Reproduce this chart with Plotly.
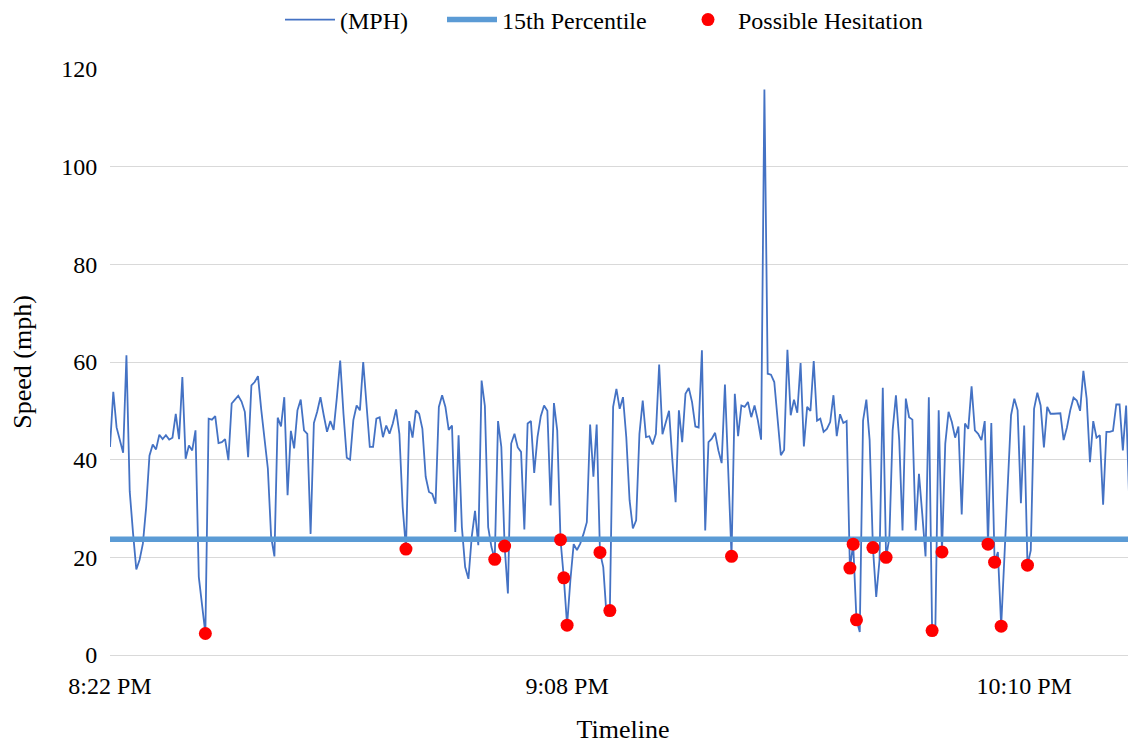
import plotly.graph_objects as go

# Speed readings (MPH), one per timeline category
speed = [
    42.6, 53.9, 46.6, 44.0, 41.4, 61.4, 33.5, 25.0, 17.5, 19.5,
    22.8, 30.3, 40.8, 43.1, 42.1, 45.1, 44.2, 45.0, 44.1, 44.5,
    49.4, 44.2, 56.9, 40.2, 42.9, 41.9, 46.0, 16.0, 10.5, 4.4,
    48.4, 48.2, 48.9, 43.4, 43.6, 44.2, 39.9, 51.5, 52.3, 53.1,
    51.9, 49.8, 40.5, 55.2, 55.9, 57.1, 50.2, 43.7, 38.2, 24.2,
    20.2, 48.6, 46.8, 52.8, 32.7, 45.9, 42.3, 50.1, 52.3, 46.0,
    45.3, 24.8, 47.5, 49.8, 52.8, 49.1, 45.7, 47.9, 46.1, 52.8,
    60.3, 49.4, 40.4, 40.0, 48.1, 51.1, 50.1, 60.0, 50.8, 42.6,
    42.6, 48.4, 48.7, 44.6, 47.0, 45.3, 47.4, 50.3, 45.3, 30.3,
    21.7, 47.9, 44.5, 50.1, 49.4, 46.3, 36.5, 33.4, 33.0, 31.0,
    50.8, 53.2, 50.8, 46.1, 47.0, 25.2, 45.0, 26.2, 18.0, 15.6,
    24.2, 29.5, 22.5, 56.2, 51.0, 26.2, 22.1, 19.6, 47.9, 42.6,
    22.3, 12.6, 43.3, 45.3, 42.5, 41.6, 25.7, 47.4, 47.9, 37.3,
    44.6, 48.9, 51.1, 50.0, 30.6, 51.6, 46.0, 23.6, 15.8, 6.1,
    15.3, 22.7, 21.5, 22.8, 24.8, 27.2, 47.2, 36.5, 47.2, 21.0,
    18.0, 8.0, 9.1, 50.8, 54.5, 50.4, 52.8, 44.6, 31.7, 25.9,
    27.6, 45.3, 52.1, 44.6, 44.8, 43.1, 45.3, 59.5, 45.2, 47.7,
    50.0, 40.0, 31.3, 50.1, 43.6, 53.5, 54.7, 51.8, 46.8, 46.6,
    62.4, 25.5, 43.6, 44.3, 45.5, 41.9, 39.3, 55.4, 38.0, 20.2,
    53.5, 44.8, 51.1, 50.8, 51.8, 48.7, 51.1, 48.1, 44.1, 115.8,
    57.6, 57.4, 55.9, 48.0, 40.9, 42.0, 62.5, 49.1, 52.3, 49.6,
    59.8, 42.7, 50.8, 50.0, 60.2, 48.0, 48.4, 45.7, 46.3, 47.7,
    53.2, 44.8, 49.3, 47.5, 47.9, 17.8, 22.7, 7.2, 4.7, 48.0,
    52.3, 44.0, 22.0, 11.9, 19.4, 54.7, 20.0, 24.0, 46.0, 53.2,
    44.0, 25.5, 52.5, 48.7, 48.2, 25.5, 37.1, 28.9, 20.2, 52.8,
    5.0, 6.0, 50.1, 21.1, 43.3, 49.8, 47.7, 44.5, 46.8, 28.8,
    47.4, 46.3, 55.0, 46.0, 45.3, 44.0, 47.9, 22.7, 47.5, 19.0,
    21.1, 5.9, 20.0, 35.0, 49.1, 52.5, 50.1, 31.1, 47.0, 18.4,
    21.4, 50.4, 53.7, 51.1, 42.5, 50.8, 49.4, 49.4, 49.5, 49.5,
    44.0, 46.6, 50.1, 52.7, 52.1, 50.0, 58.2, 52.5, 39.5, 47.9,
    44.5, 45.0, 30.8, 45.7, 45.7, 45.9, 51.3, 51.3, 41.9, 51.1,
    30.2, 45.0, 42.7, 35.0,
]

percentile_15 = 23.7

# Category indices flagged as possible hesitation
hesitation_idx = [29, 90, 117, 120, 137, 138, 139, 149, 152, 189, 225, 226,
                  227, 232, 236, 250, 253, 267, 269, 271, 279]

tick_idx = [0, 139, 278]
tick_labels = ["8:22 PM", "9:08 PM", "10:10 PM"]

series_names = ["(MPH)", "15th Percentile", "Possible Hesitation"]

x = list(range(len(speed)))
hes_y = [speed[i] for i in hesitation_idx]

FONT = "Liberation Serif"
W, H = 1128, 736

fig = go.Figure()
fig.add_trace(go.Scatter(
    x=x, y=speed, mode="lines", name=series_names[0], legend="legend",
    line=dict(color="#4472C4", width=1.8),
))
fig.add_trace(go.Scatter(
    x=x, y=[percentile_15] * len(x), mode="lines", name=series_names[1], legend="legend2",
    line=dict(color="#5B9BD5", width=5.5),
))
fig.add_trace(go.Scatter(
    x=hesitation_idx, y=hes_y, mode="markers", name=series_names[2], legend="legend3",
    marker=dict(color="#FF0000", size=13),
))

def leg(left_px):
    return dict(
        orientation="h", xref="container", yref="container",
        x=left_px / W, xanchor="left", y=1 - 12 / H, yanchor="middle",
        font=dict(family=FONT, size=24, color="#000000"),
        itemwidth=50, bgcolor="rgba(0,0,0,0)",
    )

fig.update_layout(
    width=W, height=H,
    margin=dict(l=102, r=0, t=61, b=89, autoexpand=False),
    paper_bgcolor="white", plot_bgcolor="white",
    font=dict(family=FONT, color="#000000", size=24),
    showlegend=True,
    legend=leg(272),
    legend2=leg(434),
    legend3=leg(670),
    xaxis=dict(
        range=[0, 312.0], automargin=False,
        tickmode="array", tickvals=tick_idx, ticktext=tick_labels,
        showgrid=False, zeroline=False,
        showline=True, linecolor="#D9D9D9", linewidth=1.3,
        ticks="outside", ticklen=9, tickcolor="rgba(0,0,0,0)",
        tickfont=dict(family=FONT, size=24, color="#000000"),
        title=dict(text="Timeline", font=dict(family=FONT, size=26, color="#000000"), standoff=21),
    ),
    yaxis=dict(
        range=[0, 120], dtick=20, tick0=0, automargin=False,
        showgrid=True, gridcolor="#D9D9D9", gridwidth=1.3,
        zeroline=False, showline=False,
        ticks="outside", ticklen=7, tickcolor="rgba(0,0,0,0)",
        tickfont=dict(family=FONT, size=24, color="#000000"),
        title=dict(text="Speed (mph)", font=dict(family=FONT, size=26, color="#000000"), standoff=26),
    ),
)

fig.write_html("out.html")
